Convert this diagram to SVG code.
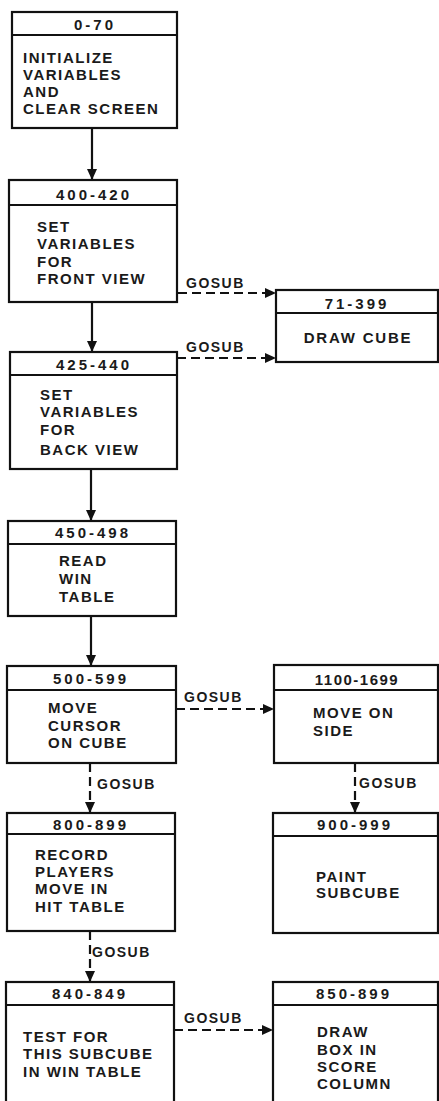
<svg xmlns="http://www.w3.org/2000/svg" width="439" height="1101" viewBox="0 0 439 1101">
<style>
.box{fill:#fff;stroke:#111;stroke-width:2.2}
.hd{fill:none;stroke:#111;stroke-width:2}
text{font-family:"Liberation Sans",Arial,sans-serif;font-weight:bold;fill:#1a1a1a}
.h{font-size:15px;letter-spacing:3px;text-anchor:middle}
.t{font-size:15px;letter-spacing:1.5px}
.lbl{font-size:14px;letter-spacing:1.5px}
.solid{stroke:#111;stroke-width:2.2;fill:none}
.dash{stroke:#111;stroke-width:2.2;fill:none;stroke-dasharray:9 5}
</style>
<defs>
<marker id="ah" markerUnits="userSpaceOnUse" markerWidth="12" markerHeight="12" viewBox="0 0 12 12" refX="11" refY="6" orient="auto">
<path d="M0,1 L11,6 L0,11 Z" fill="#111"/>
</marker>
</defs>
<rect width="439" height="1101" fill="#fff"/>
<g id="connectors">
<line class="solid" x1="92" y1="128" x2="92" y2="180" marker-end="url(#ah)"/>
<line class="solid" x1="92" y1="302" x2="92" y2="352" marker-end="url(#ah)"/>
<line class="solid" x1="91" y1="469" x2="91" y2="521" marker-end="url(#ah)"/>
<line class="solid" x1="91" y1="616" x2="91" y2="666" marker-end="url(#ah)"/>
<line class="dash" x1="90" y1="763" x2="90" y2="813" marker-end="url(#ah)"/>
<line class="dash" x1="90" y1="931" x2="90" y2="982" marker-end="url(#ah)"/>
<line class="dash" x1="355" y1="763" x2="355" y2="813" marker-end="url(#ah)"/>
<line class="dash" x1="178" y1="293" x2="276" y2="293" marker-end="url(#ah)"/>
<line class="dash" x1="177" y1="358" x2="276" y2="358" marker-end="url(#ah)"/>
<line class="dash" x1="176" y1="709" x2="274" y2="709" marker-end="url(#ah)"/>
<line class="dash" x1="174" y1="1030" x2="273" y2="1030" marker-end="url(#ah)"/>
<text class="lbl" x="186" y="288">GOSUB</text>
<text class="lbl" x="186" y="352">GOSUB</text>
<text class="lbl" x="184" y="702">GOSUB</text>
<text class="lbl" x="97" y="789">GOSUB</text>
<text class="lbl" x="359" y="788">GOSUB</text>
<text class="lbl" x="92" y="957">GOSUB</text>
<text class="lbl" x="184" y="1023">GOSUB</text>
</g>
<g id="n0-70">
<rect class="box" x="12" y="12" width="165" height="116"/>
<line class="hd" x1="12" y1="35" x2="177" y2="35"/>
<text class="h" x="95" y="30">0-70</text>
<text class="t" x="23" y="63">INITIALIZE</text>
<text class="t" x="23" y="80">VARIABLES</text>
<text class="t" x="23" y="97">AND</text>
<text class="t" x="23" y="114">CLEAR SCREEN</text>
</g>
<g id="n400-420">
<rect class="box" x="9" y="180" width="168" height="122"/>
<line class="hd" x1="9" y1="205" x2="177" y2="205"/>
<text class="h" x="94" y="200">400-420</text>
<text class="t" x="37" y="232">SET</text>
<text class="t" x="37" y="249">VARIABLES</text>
<text class="t" x="37" y="267">FOR</text>
<text class="t" x="37" y="284">FRONT VIEW</text>
</g>
<g id="n425-440">
<rect class="box" x="10" y="352" width="167" height="117"/>
<line class="hd" x1="10" y1="375" x2="177" y2="375"/>
<text class="h" x="94" y="370">425-440</text>
<text class="t" x="40" y="400">SET</text>
<text class="t" x="40" y="417">VARIABLES</text>
<text class="t" x="40" y="435">FOR</text>
<text class="t" x="40" y="455">BACK VIEW</text>
</g>
<g id="n450-498">
<rect class="box" x="8" y="521" width="168" height="95"/>
<line class="hd" x1="8" y1="544" x2="176" y2="544"/>
<text class="h" x="93" y="538">450-498</text>
<text class="t" x="59" y="566">READ</text>
<text class="t" x="59" y="584">WIN</text>
<text class="t" x="59" y="602">TABLE</text>
</g>
<g id="n500-599">
<rect class="box" x="7" y="666" width="169" height="97"/>
<line class="hd" x1="7" y1="690" x2="176" y2="690"/>
<text class="h" x="91" y="684">500-599</text>
<text class="t" x="48" y="713">MOVE</text>
<text class="t" x="48" y="731">CURSOR</text>
<text class="t" x="48" y="748">ON CUBE</text>
</g>
<g id="n800-899">
<rect class="box" x="7" y="813" width="168" height="118"/>
<line class="hd" x1="7" y1="834" x2="175" y2="834"/>
<text class="h" x="91" y="830">800-899</text>
<text class="t" x="35" y="860">RECORD</text>
<text class="t" x="35" y="877">PLAYERS</text>
<text class="t" x="35" y="894">MOVE IN</text>
<text class="t" x="35" y="912">HIT TABLE</text>
</g>
<g id="n840-849">
<rect class="box" x="6" y="982" width="168" height="130"/>
<line class="hd" x1="6" y1="1005" x2="174" y2="1005"/>
<text class="h" x="90" y="999">840-849</text>
<text class="t" x="23" y="1042">TEST FOR</text>
<text class="t" x="23" y="1059">THIS SUBCUBE</text>
<text class="t" x="23" y="1077">IN WIN TABLE</text>
</g>
<g id="n71-399">
<rect class="box" x="276" y="290" width="162" height="72"/>
<line class="hd" x1="276" y1="313" x2="438" y2="313"/>
<text class="h" x="357" y="309">71-399</text>
<text class="h" x="358" y="343" style="letter-spacing:1.8px">DRAW CUBE</text>
</g>
<g id="n1100-1699">
<rect class="box" x="274" y="665" width="164" height="98"/>
<line class="hd" x1="274" y1="690" x2="438" y2="690"/>
<text class="h" x="357" y="685" style="letter-spacing:1.5px">1100-1699</text>
<text class="t" x="313" y="718">MOVE ON</text>
<text class="t" x="313" y="736">SIDE</text>
</g>
<g id="n900-999">
<rect class="box" x="273" y="813" width="165" height="120"/>
<line class="hd" x1="273" y1="836" x2="438" y2="836"/>
<text class="h" x="355" y="830">900-999</text>
<text class="t" x="316" y="882">PAINT</text>
<text class="t" x="316" y="898">SUBCUBE</text>
</g>
<g id="n850-899">
<rect class="box" x="273" y="982" width="165" height="130"/>
<line class="hd" x1="273" y1="1005" x2="438" y2="1005"/>
<text class="h" x="354" y="999">850-899</text>
<text class="t" x="317" y="1037">DRAW</text>
<text class="t" x="317" y="1055">BOX IN</text>
<text class="t" x="317" y="1072">SCORE</text>
<text class="t" x="317" y="1089">COLUMN</text>
</g>
</svg>
